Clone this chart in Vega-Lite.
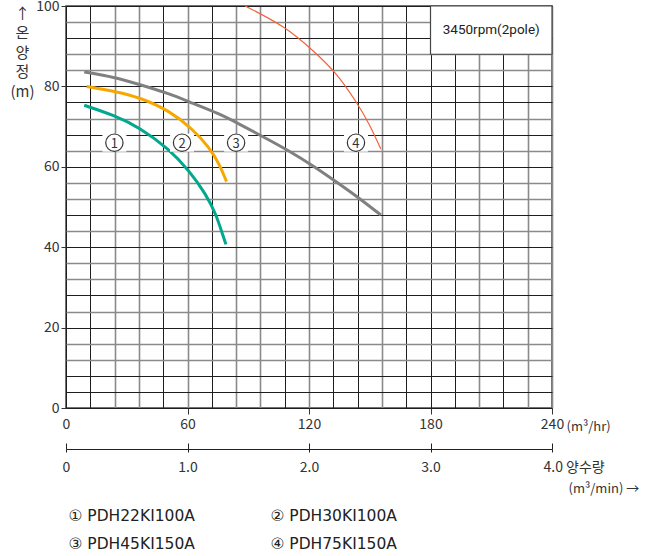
{
"$schema":"https://vega.github.io/schema/vega-lite/v6.json",
"width":486,"height":402,
"autosize":{"type":"none"},
"padding":{"left":66,"top":6,"right":99,"bottom":148},
"background":"white",
"config":{
 "font":"Noto Sans CJK KR",
 "view":{"stroke":"#444","strokeWidth":1.5},
 "axis":{"domain":false,"labelFontSize":14,"labelColor":"#333","tickColor":"#333","titleFontWeight":"normal","titleColor":"#333","labelFont":"Noto Sans CJK KR","titleFont":"Noto Sans CJK KR","labelFlush":false},
 "legend":{"orient":"none","direction":"horizontal","legendX":-13,"legendY":502,"columns":2,"columnPadding":60,"rowPadding":11,"symbolSize":0,"symbolStrokeWidth":0,"symbolOpacity":0,"labelFont":"DejaVu Sans","labelFontSize":15.5,"labelOffset":0,"labelColor":"#222","labelLimit":300,"padding":0}
},
"datasets":{
 "curves":[
  {"model":"① PDH22KI100A","q":9,"h":75.3},{"model":"① PDH22KI100A","q":23.9,"h":72.8},{"model":"① PDH22KI100A","q":36.2,"h":69.8},{"model":"① PDH22KI100A","q":51,"h":64.4},{"model":"① PDH22KI100A","q":60.9,"h":59},{"model":"① PDH22KI100A","q":69.1,"h":53.2},{"model":"① PDH22KI100A","q":74.1,"h":48.2},{"model":"① PDH22KI100A","q":77.3,"h":43.2},{"model":"① PDH22KI100A","q":79,"h":40.7},
  {"model":"② PDH30KI100A","q":10.2,"h":80},{"model":"② PDH30KI100A","q":23.9,"h":78.8},{"model":"② PDH30KI100A","q":36.2,"h":77.3},{"model":"② PDH30KI100A","q":51,"h":74},{"model":"② PDH30KI100A","q":62.5,"h":69.4},{"model":"② PDH30KI100A","q":70.8,"h":64.8},{"model":"② PDH30KI100A","q":75.7,"h":60.7},{"model":"② PDH30KI100A","q":79.3,"h":56.3},
  {"model":"③ PDH45KI150A","q":9,"h":83.6},{"model":"③ PDH45KI150A","q":23.9,"h":82.3},{"model":"③ PDH45KI150A","q":36.2,"h":80.5},{"model":"③ PDH45KI150A","q":51,"h":78.2},{"model":"③ PDH45KI150A","q":62.5,"h":75.8},{"model":"③ PDH45KI150A","q":75.7,"h":73.2},{"model":"③ PDH45KI150A","q":83.9,"h":71.1},{"model":"③ PDH45KI150A","q":97.9,"h":67.3},{"model":"③ PDH45KI150A","q":109.4,"h":64.2},{"model":"③ PDH45KI150A","q":123.4,"h":59.8},{"model":"③ PDH45KI150A","q":133.3,"h":56.3},{"model":"③ PDH45KI150A","q":144.8,"h":52.2},{"model":"③ PDH45KI150A","q":155.5,"h":48},
  {"model":"④ PDH75KI150A","q":88.5,"h":100},{"model":"④ PDH75KI150A","q":108.6,"h":94.8},{"model":"④ PDH75KI150A","q":121.8,"h":89},{"model":"④ PDH75KI150A","q":133.3,"h":83.6},{"model":"④ PDH75KI150A","q":144,"h":75.7},{"model":"④ PDH75KI150A","q":149.8,"h":70.7},{"model":"④ PDH75KI150A","q":155.5,"h":64.4}
 ],
 "marks":[{"n":"1","q":23.9,"h":66},{"n":"2","q":57.3,"h":66},{"n":"3","q":84,"h":66},{"n":"4","q":143.2,"h":66}],
 "box":[{"q":180,"q2":240,"h":88,"h2":100}],
 "boxtext":[{"q":210,"h":94,"label":"3450rpm(2pole)"}],
 "flowmin":[{"qm":0},{"qm":4}]
},
"resolve":{"scale":{"x":"independent"},"axis":{"x":"independent"}},
"layer":[
 {
  "encoding":{
   "x":{"field":"q","type":"quantitative","scale":{"domain":[0,240],"nice":false,"zero":false},
    "axis":{"title":"(m³/hr)","values":[0,12,24,36,48,60,72,84,96,108,120,132,144,156,168,180,192,204,216,228,240],"grid":true,
     "gridColor":{"condition":{"test":"indexof([24,36,60,84,96,120,156,204,228,240],datum.value)>=0","value":"#8a8a8a"},"value":"#1e1e1e"},
     "gridWidth":{"condition":{"test":"indexof([24,36,60,84,96,120,156,204,228,240],datum.value)>=0","value":1.6},"value":1},
     "labelExpr":"datum.value % 60 == 0 ? datum.label : ''",
     "tickSize":6,
     "tickOpacity":{"condition":{"test":"datum.value % 60 == 0 && datum.value > 0","value":1},"value":0},
     "labelPadding":3,
     "titleX":500,"titleY":22,"titleAlign":"left","titleBaseline":"alphabetic","titleFontSize":13}},
   "y":{"field":"h","type":"quantitative","scale":{"domain":[0,100],"nice":false,"zero":false},
    "axis":{"values":[0,4,8,12,16,20,24,28,32,36,40,44,48,52,56,60,64,68,72,76,80,84,88,92,96,100],"grid":true,
     "gridColor":{"condition":{"test":"indexof([96,88,84,72,64,56,52,44,36,32,24,16,12],datum.value)>=0","value":"#8a8a8a"},"value":"#1e1e1e"},
     "gridWidth":{"condition":{"test":"indexof([96,88,84,72,64,56,52,44,36,32,24,16,12],datum.value)>=0","value":1.6},"value":1},
     "labelExpr":"datum.value % 20 == 0 ? datum.label : ''",
     "tickSize":5,
     "tickOpacity":{"condition":{"test":"datum.value % 20 == 0","value":1},"value":0},
     "labelPadding":2,
     "title":["↑","온","양","정","(m)"],"titleAngle":0,"titleX":-44,"titleY":0,"titleAlign":"center","titleBaseline":"top","titleFontSize":15,"titleLineHeight":19.5}}
  },
  "layer":[
   {"data":{"name":"box"},"mark":{"type":"rect","fill":"white","stroke":"#444","strokeWidth":1.2},"encoding":{"x2":{"field":"q2"},"y2":{"field":"h2"}}},
   {"data":{"name":"boxtext"},"mark":{"type":"text","fontSize":13.5,"color":"#222","font":"Roboto"},"encoding":{"text":{"field":"label"}}},
   {"data":{"name":"curves"},"mark":{"type":"line","interpolate":"basis"},
    "encoding":{
     "color":{"field":"model","type":"nominal","scale":{"domain":["① PDH22KI100A","② PDH30KI100A","③ PDH45KI150A","④ PDH75KI150A"],"range":["#00a88e","#f6a800","#808080","#f4623a"]},"legend":{"title":null}},
     "strokeWidth":{"condition":{"test":"datum.model == '④ PDH75KI150A'","value":1.2},"value":3}}},
   {"data":{"name":"marks"},"mark":{"type":"point","shape":"M-1.2,-0.9H1.2V0.9H-1.2Z","size":400,"filled":true,"color":"white","opacity":1}},
   {"data":{"name":"marks"},"mark":{"type":"point","shape":"circle","size":300,"filled":true,"fill":"white","stroke":"#333","strokeWidth":1.2,"opacity":1}},
   {"data":{"name":"marks"},"mark":{"type":"text","fontSize":13,"color":"#333","baseline":"middle","dy":1},"encoding":{"text":{"field":"n"}}}
  ]
 },
 {
  "data":{"name":"flowmin"},
  "mark":{"type":"point","opacity":0},
  "encoding":{"x":{"field":"qm","type":"quantitative","scale":{"domain":[0,4],"nice":false,"zero":false},
   "axis":{"orient":"bottom","offset":41,"domain":true,"domainColor":"#222","domainWidth":1.2,"values":[0,1,2,3,4],"grid":false,"tickSize":3,"tickColor":"#222",
    "labelExpr":"datum.value == 0 ? '0' : (datum.value == 4 ? '4.0 양수량' : format(datum.value, '.1f'))",
    "labelAlign":{"condition":{"test":"datum.value == 4","value":"left"},"value":"center"},
    "labelOffset":{"condition":{"test":"datum.value == 4","value":-9},"value":0},
    "labelPadding":8,
    "title":"(m³/min) →","titleX":502,"titleY":43,"titleAlign":"left","titleBaseline":"alphabetic","titleFontSize":13}}}
 },
 {
  "data":{"name":"flowmin"},
  "mark":{"type":"point","opacity":0},
  "encoding":{"x":{"field":"qm","type":"quantitative","scale":{"domain":[0,4],"nice":false,"zero":false},
   "axis":{"orient":"bottom","offset":41,"domain":false,"values":[0,1,2,3,4],"grid":false,"tickSize":-6,"tickColor":"#222","labels":false,"title":null}}}
 }
]
}
